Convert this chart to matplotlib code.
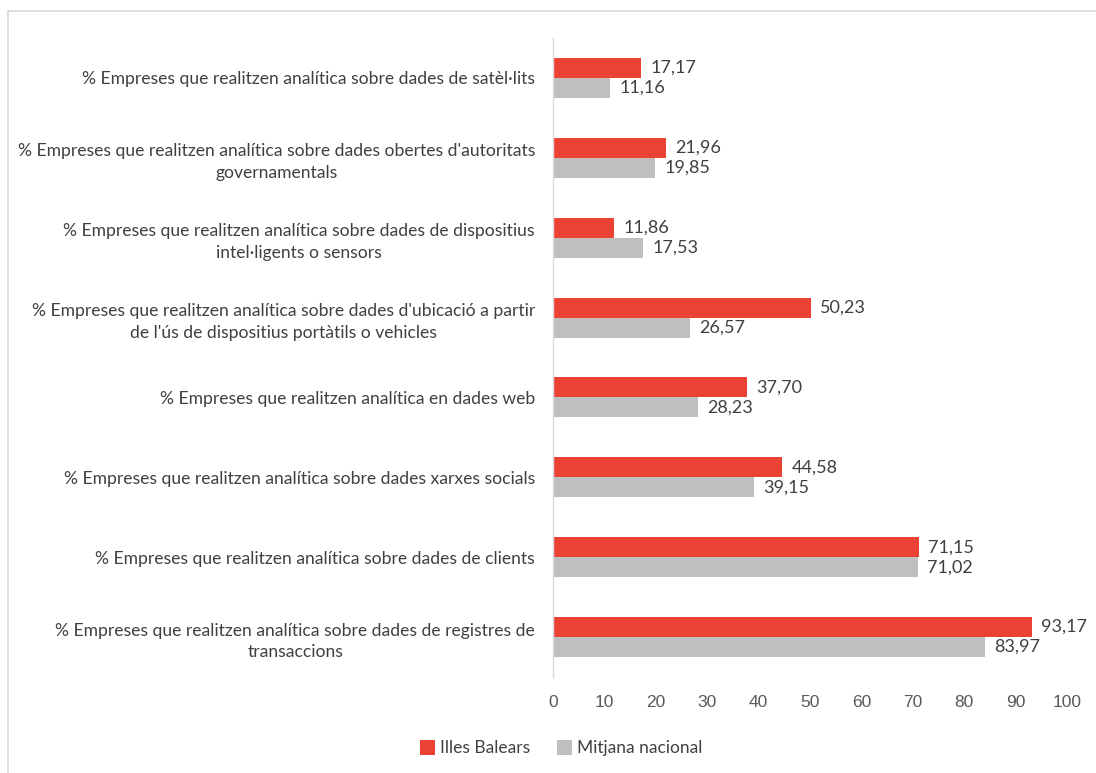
import matplotlib.pyplot as plt
import numpy as np
from matplotlib.patches import Rectangle

categories = [
    "% Empreses que realitzen analítica sobre dades de satèl·lits",
    "% Empreses que realitzen analítica sobre dades obertes d'autoritats\ngovernamentals",
    "% Empreses que realitzen analítica sobre dades de dispositius\nintel·ligents o sensors",
    "% Empreses que realitzen analítica sobre dades d'ubicació a partir\nde l'ús de dispositius portàtils o vehicles",
    "% Empreses que realitzen analítica en dades web",
    "% Empreses que realitzen analítica sobre dades xarxes socials",
    "% Empreses que realitzen analítica sobre dades de clients",
    "% Empreses que realitzen analítica sobre dades de registres de\ntransaccions",
]
balears = [17.17, 21.96, 11.86, 50.23, 37.70, 44.58, 71.15, 93.17]
nacional = [11.16, 19.85, 17.53, 26.57, 28.23, 39.15, 71.02, 83.97]
xticks = list(range(0, 101, 10))

RED = "#EA4335"
GREY = "#BFBFBF"
TXT = "#404040"

fig = plt.figure(figsize=(10.96, 7.73), dpi=100)
ax = fig.add_axes([0.5046, 0.1242, 0.4689, 0.8266])

y = np.arange(len(categories))
h = 0.25
ax.barh(y - h / 2, balears, height=h, color=RED, label="Illes Balears")
ax.barh(y + h / 2, nacional, height=h, color=GREY, label="Mitjana nacional")

for yi, v in zip(y, balears):
    ax.text(v + 1.8, yi - h / 2, f"{v:.2f}".replace(".", ","), va="center", ha="left",
            fontsize=13, color=TXT, family="Lato")
for yi, v in zip(y, nacional):
    ax.text(v + 1.8, yi + h / 2, f"{v:.2f}".replace(".", ","), va="center", ha="left",
            fontsize=13, color=TXT, family="Lato")

ax.set_ylim(len(categories) - 0.5, -0.5)
ax.set_xlim(0, 100)
ax.set_xticks(xticks)
ax.set_xticklabels([str(t) for t in xticks], fontsize=12.5, color="#595959",
                   family="Liberation Sans")
ax.tick_params(axis="x", length=0, pad=13)
ax.set_yticks(y)
ax.set_yticklabels(categories, fontsize=12.6, color=TXT, family="Lato",
                   multialignment="center", linespacing=1.45)
ax.tick_params(axis="y", length=0, pad=13)

for s in ["top", "right", "bottom"]:
    ax.spines[s].set_visible(False)
ax.spines["left"].set_color("#D9D9D9")
ax.spines["left"].set_linewidth(1.0)

leg = fig.legend(loc="center", bbox_to_anchor=(0.512, 0.032), ncol=2, frameon=False,
                 prop={"family": "Lato", "size": 12.5}, handlelength=0.9, handleheight=0.9,
                 handletextpad=0.3, columnspacing=1.5)
for t in leg.get_texts():
    t.set_color(TXT)

fig.patches.append(Rectangle((8 / 1096, -0.01), 1.0, 1 - 11 / 773 + 0.01, transform=fig.transFigure,
                             fill=False, edgecolor="#D9D9D9", linewidth=1.2))

fig.savefig("out.png", dpi=100)
